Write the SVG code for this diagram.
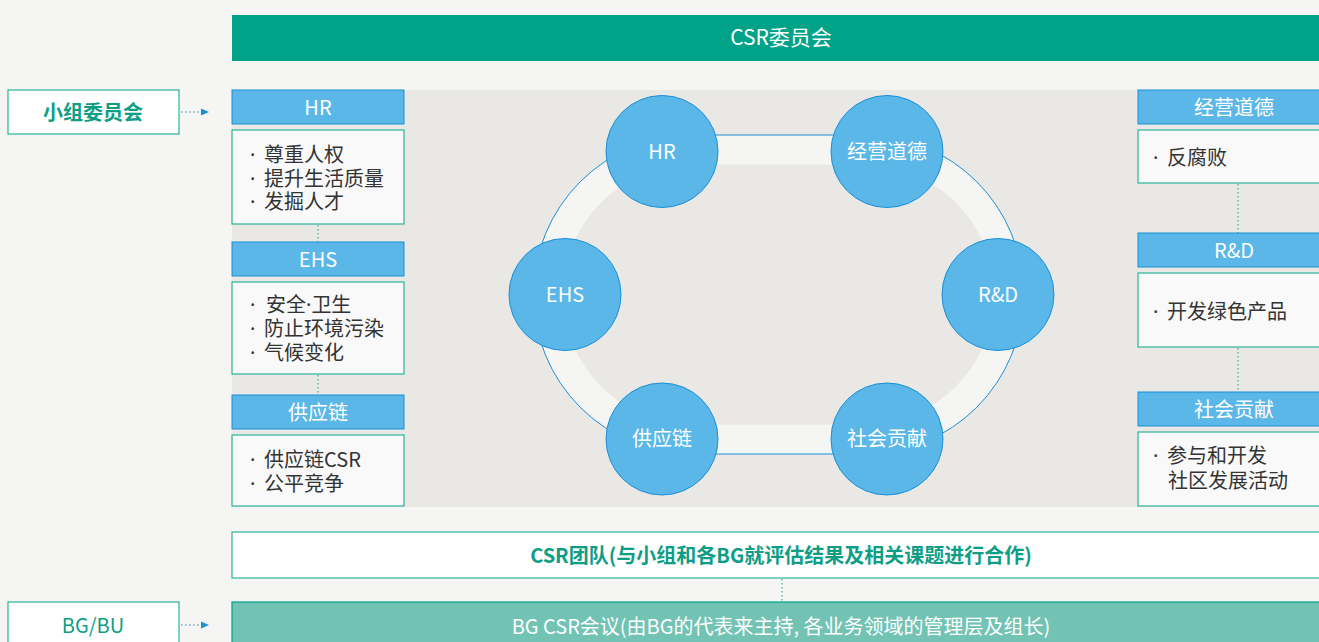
<svg xmlns="http://www.w3.org/2000/svg" width="1319" height="642" viewBox="0 0 1319 642">
<defs>
<marker id="arr" markerWidth="8" markerHeight="8" refX="7" refY="4" orient="auto" markerUnits="userSpaceOnUse"><path d="M0,0.5 L8,4 L0,7.5 Z" fill="#1a8fd6"/></marker>
</defs>
<style>
text{font-family:"Noto Sans CJK SC","Noto Sans",sans-serif}
.d{font-family:"Noto Sans",sans-serif}
.hdr{fill:#5bb7e8;stroke:#1a8fd6;stroke-width:1}
.hdrt{fill:#fff;font-size:20px;text-anchor:middle;dominant-baseline:central}
.box{fill:#f8f9f8;stroke:#2ab39a;stroke-width:1.2}
.ct{fill:#333;font-size:20px}
.cir{fill:#5bb7e8;stroke:#1a8fd6;stroke-width:1}
.cirt{fill:#fff;font-size:20px;text-anchor:middle;dominant-baseline:central}
.dot{stroke:#2ab39a;stroke-width:1.2;stroke-dasharray:1.5 2.5;fill:none}
.bdot{stroke:#1a8fd6;stroke-width:1.2;stroke-dasharray:1.5 2.5;fill:none}
.lbl{fill:#fff;stroke:#2ab39a;stroke-width:1.2}
.lblt{fill:#0e9e85;font-size:20px;font-weight:bold;text-anchor:middle;dominant-baseline:central}
</style>
<rect x="0" y="0" width="1319" height="642" fill="#f5f5f3"/>
<g id="csr-committee">
<rect x="232" y="15" width="1087" height="46" fill="#00a388"/>
<text x="781" y="36" class="hdrt" style="font-size:21px">CSR委员会</text>
</g>
<g id="panel">
<rect x="232" y="90" width="1087" height="417" fill="#eae8e5"/>
<path d="M693,135 L864,135 A159.5,159.5 0 0 1 864,454 L693,454 A159.5,159.5 0 0 1 693,135 Z" fill="#f5f5f4" stroke="#1a8fd6" stroke-width="1"/>
<path d="M693,164.5 L864,164.5 A130,130 0 0 1 864,424.5 L693,424.5 A130,130 0 0 1 693,164.5 Z" fill="#eae8e5"/>
</g>
<g id="connectors">
<line x1="318" y1="225" x2="318" y2="242" class="dot"/>
<line x1="318" y1="375" x2="318" y2="395" class="dot"/>
<line x1="1238" y1="184" x2="1238" y2="233" class="dot"/>
<line x1="1238" y1="348" x2="1238" y2="392" class="dot"/>
<line x1="782" y1="579" x2="782" y2="602" class="dot"/>
<line x1="181" y1="112" x2="208" y2="112" class="bdot" marker-end="url(#arr)"/>
<line x1="181" y1="625" x2="208" y2="625" class="bdot" marker-end="url(#arr)"/>
</g>
<g id="left-hr">
<rect x="232" y="90" width="172" height="34" class="hdr"/>
<text x="318" y="106" class="hdrt">HR</text>
<rect x="232" y="130" width="172" height="94" class="box"/>
<text class="ct"><tspan x="250" y="162" class="d">·</tspan><tspan x="264" y="162">尊重人权</tspan><tspan x="250" y="186" class="d">·</tspan><tspan x="264" y="186">提升生活质量</tspan><tspan x="250" y="209" class="d">·</tspan><tspan x="264" y="209">发掘人才</tspan></text>
</g>
<g id="left-ehs">
<rect x="232" y="242" width="172" height="34" class="hdr"/>
<text x="318" y="258" class="hdrt">EHS</text>
<rect x="232" y="282" width="172" height="92" class="box"/>
<text class="ct"><tspan x="250" y="312" class="d">·</tspan><tspan x="266" y="312">安全</tspan><tspan class="d">·</tspan><tspan>卫生</tspan><tspan x="250" y="336" class="d">·</tspan><tspan x="264" y="336">防止环境污染</tspan><tspan x="250" y="360" class="d">·</tspan><tspan x="264" y="360">气候变化</tspan></text>
</g>
<g id="left-supply">
<rect x="232" y="395" width="172" height="34" class="hdr"/>
<text x="318" y="411" class="hdrt">供应链</text>
<rect x="232" y="435" width="172" height="71" class="box"/>
<text class="ct"><tspan x="250" y="467" class="d">·</tspan><tspan x="264" y="467">供应链CSR</tspan><tspan x="250" y="491" class="d">·</tspan><tspan x="264" y="491">公平竞争</tspan></text>
</g>
<g id="right-ethics">
<rect x="1138" y="90" width="190" height="34" class="hdr"/>
<text x="1234" y="106" class="hdrt">经营道德</text>
<rect x="1138" y="130" width="190" height="53" class="box"/>
<text class="ct"><tspan x="1153" y="165" class="d">·</tspan><tspan x="1167" y="165">反腐败</tspan></text>
</g>
<g id="right-rd">
<rect x="1138" y="233" width="190" height="34" class="hdr"/>
<text x="1234" y="249" class="hdrt">R&amp;D</text>
<rect x="1138" y="273" width="190" height="74" class="box"/>
<text class="ct"><tspan x="1153" y="319" class="d">·</tspan><tspan x="1167" y="319">开发绿色产品</tspan></text>
</g>
<g id="right-social">
<rect x="1138" y="392" width="190" height="34" class="hdr"/>
<text x="1234" y="408" class="hdrt">社会贡献</text>
<rect x="1138" y="432" width="190" height="74" class="box"/>
<text class="ct"><tspan x="1153" y="463" class="d">·</tspan><tspan x="1167" y="463">参与和开发</tspan><tspan x="1168" y="488">社区发展活动</tspan></text>
</g>
<g id="c-hr"><circle cx="662" cy="151.5" r="56" class="cir"/><text x="662" y="150.5" class="cirt">HR</text></g>
<g id="c-ethics"><circle cx="887" cy="151.5" r="56" class="cir"/><text x="887" y="150.5" class="cirt">经营道德</text></g>
<g id="c-ehs"><circle cx="565" cy="294.5" r="56" class="cir"/><text x="565" y="293.5" class="cirt">EHS</text></g>
<g id="c-rd"><circle cx="998" cy="294.5" r="56" class="cir"/><text x="998" y="293.5" class="cirt">R&amp;D</text></g>
<g id="c-supply"><circle cx="662" cy="439" r="56" class="cir"/><text x="662" y="437" class="cirt">供应链</text></g>
<g id="c-social"><circle cx="887" cy="439" r="56" class="cir"/><text x="887" y="437" class="cirt">社会贡献</text></g>
<g id="subcommittee">
<rect x="8" y="90" width="171" height="44" class="lbl"/>
<text x="93" y="111" class="lblt">小组委员会</text>
</g>
<g id="bgbu">
<rect x="8" y="602" width="171" height="50" class="lbl"/>
<text x="93" y="624" class="lblt" style="font-weight:normal">BG/BU</text>
</g>
<g id="csr-team">
<rect x="232" y="532" width="1097" height="46" class="lbl"/>
<text x="781" y="554" class="lblt">CSR团队(与小组和各BG就评估结果及相关课题进行合作)</text>
</g>
<g id="bg-meeting">
<rect x="232" y="602" width="1097" height="50" fill="#72c3b3" stroke="#00a388" stroke-width="1.2"/>
<text x="781" y="625" class="hdrt">BG CSR会议(由BG的代表来主持, 各业务领域的管理层及组长)</text>
</g>
</svg>
